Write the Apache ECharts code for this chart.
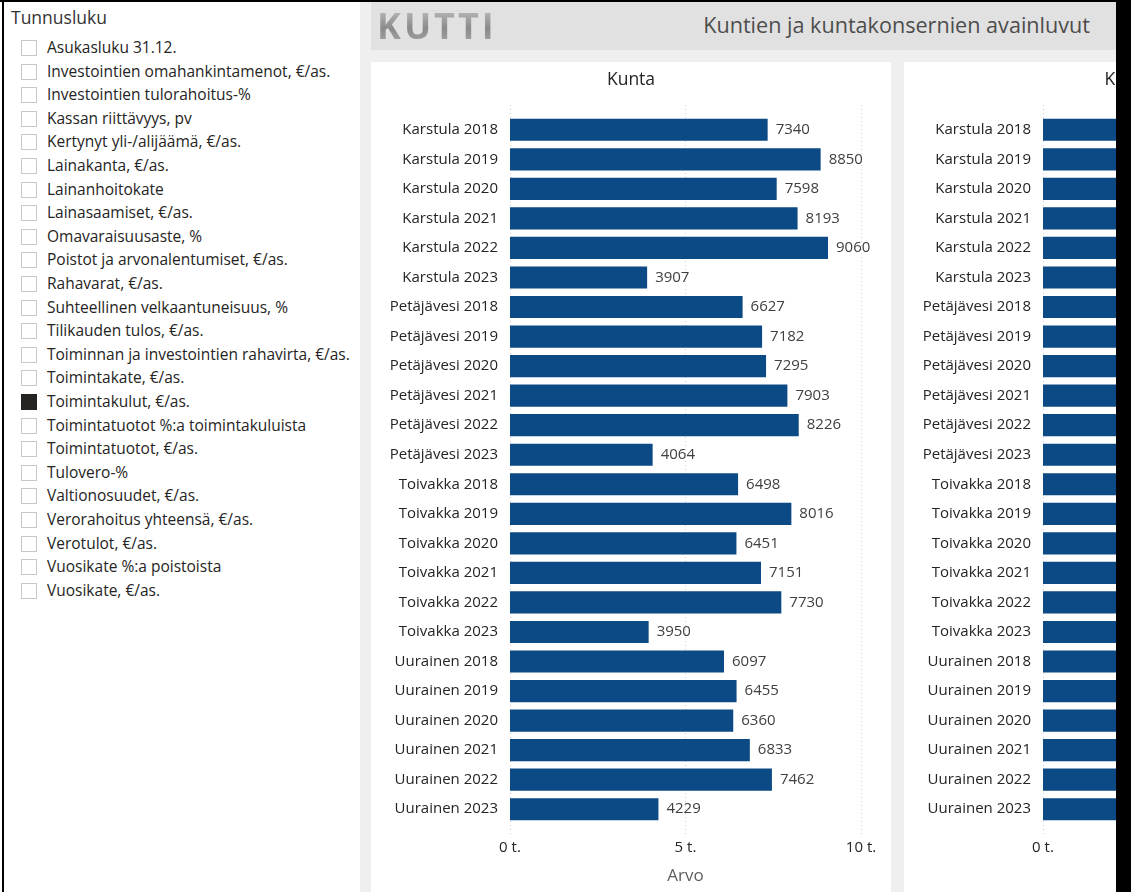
<!DOCTYPE html>
<html>
<head>
<meta charset="utf-8">
<script src="https://cdn.jsdelivr.net/npm/echarts@6/dist/echarts.min.js"></script>
<style>
  html, body { margin:0; padding:0; width:1131px; height:892px; overflow:hidden; background:#fff; font-family:"Open Sans", "Noto Sans", sans-serif; }
  .abs { position:absolute; }
  #grayBg { left:360px; top:0; width:756px; height:892px; background:#efefef; }
  #header { left:371px; top:2px; width:745px; height:48px; background:#e1e1e1; }
  #logo { left:377px; top:4px; font-size:36px; font-weight:700; letter-spacing:3px; line-height:44px;
          background:linear-gradient(#c8c8c8, #8a8a8a 55%, #ababab); -webkit-background-clip:text; background-clip:text; color:transparent; }
  #title { right:41px; top:10px; font-size:21.6px; color:#4d4d4d; line-height:30px; white-space:nowrap; }
  #panel1 { left:371px; top:62px; width:520px; height:830px; background:#fff; }
  #panel2 { left:904px; top:62px; width:520px; height:830px; background:#fff; }
  #slicer { left:3px; top:2px; width:357px; height:890px; background:#fff; }
  #slicerTitle { left:11px; top:5px; font-size:17.5px; color:#333; }
  .item { position:absolute; left:21px; height:20px; font-size:15.5px; color:#252423; white-space:nowrap; line-height:20px; }
  .box { position:absolute; left:0; top:2px; width:14px; height:14px; border:1px solid #c8c8c8; background:#fff; box-sizing:content-box; }
  .box.on { background:#252423; border-color:#252423; }
  .lbl { position:absolute; left:26px; top:-1px; }
  #topLine { left:0; top:0; width:1116px; height:2px; background:#000; }
  #leftLine { left:2px; top:0; width:2px; height:892px; background:#000; }
  #rightBand { left:1116px; top:0; width:15px; height:892px; background:#000; }
</style>
</head>
<body>
<div class="abs" id="grayBg"></div>
<div class="abs" id="header"></div>
<div class="abs" id="logo">KUTTI</div>
<div class="abs" id="title">Kuntien ja kuntakonsernien avainluvut</div>
<div class="abs" id="slicer"></div>
<div class="abs" id="slicerTitle">Tunnusluku</div>
<div class="abs" id="panel1"></div>
<div class="abs" id="panel2"></div>
<div class="abs" id="topLine"></div>
<div class="abs" id="leftLine"></div>
<div class="abs" id="rightBand"></div>
<script>
// ---- data ----
const metrics = [
  'Asukasluku 31.12.',
  'Investointien omahankintamenot, €/as.',
  'Investointien tulorahoitus-%',
  'Kassan riittävyys, pv',
  'Kertynyt yli-/alijäämä, €/as.',
  'Lainakanta, €/as.',
  'Lainanhoitokate',
  'Lainasaamiset, €/as.',
  'Omavaraisuusaste, %',
  'Poistot ja arvonalentumiset, €/as.',
  'Rahavarat, €/as.',
  'Suhteellinen velkaantuneisuus, %',
  'Tilikauden tulos, €/as.',
  'Toiminnan ja investointien rahavirta, €/as.',
  'Toimintakate, €/as.',
  'Toimintakulut, €/as.',
  'Toimintatuotot %:a toimintakuluista',
  'Toimintatuotot, €/as.',
  'Tulovero-%',
  'Valtionosuudet, €/as.',
  'Verorahoitus yhteensä, €/as.',
  'Verotulot, €/as.',
  'Vuosikate %:a poistoista',
  'Vuosikate, €/as.'
];
const selectedMetric = 'Toimintakulut, €/as.';
const municipalities = ['Karstula', 'Petäjävesi', 'Toivakka', 'Uurainen'];
const years = [2018, 2019, 2020, 2021, 2022, 2023];
const kuntaValues = [
  7340, 8850, 7598, 8193, 9060, 3907,
  6627, 7182, 7295, 7903, 8226, 4064,
  6498, 8016, 6451, 7151, 7730, 3950,
  6097, 6455, 6360, 6833, 7462, 4229
];
// konserni chart is cut off at the right edge; values are estimates
const konserniValues = [
  9100, 10900, 9400, 10100, 11200, 5200,
  7800, 8400, 8500, 9200, 9600, 5100,
  7400, 9100, 7400, 8200, 8900, 4800,
  6900, 7300, 7200, 7700, 8400, 5000
];
const xTicks = ['0 t.', '5 t.', '10 t.'];
const chartTitles = ['Kunta', 'Kuntakonserni'];
const axisName = 'Arvo';

// ---- slicer ----
metrics.forEach((m, i) => {
  const d = document.createElement('div');
  d.className = 'item';
  d.style.top = (38 + i * 23.6) + 'px';
  d.innerHTML = '<div class="box' + (m === selectedMetric ? ' on' : '') + '"></div><span class="lbl"></span>';
  d.querySelector('.lbl').textContent = m;
  document.body.appendChild(d);
});

const categories = [];
municipalities.forEach(m => years.forEach(y => categories.push(m + ' ' + y)));

function makeChart(el, title, values) {
  const c = echarts.init(el, null, { renderer: 'canvas' });
  const font = '"Open Sans", "Noto Sans", sans-serif';
  c.setOption({
    animation: false,
    textStyle: { fontFamily: font },
    title: { text: title, left: 'center', top: 4, textStyle: { fontSize: 17.5, fontWeight: 'normal', color: '#252423', fontFamily: font } },
    grid: [
      { left: 139, right: 30, top: 53, bottom: 68 },
      { left: 139, right: 30, top: 43, bottom: 55 }
    ],
    xAxis: [
      { gridIndex: 0, type: 'value', min: 0, max: 10000, interval: 5000,
        axisLine: { show: false }, axisTick: { show: false }, splitLine: { show: false },
        axisLabel: { margin: 16, fontSize: 15, color: '#252423', fontFamily: font,
          formatter: v => xTicks[Math.round(v / 5000)] },
        name: axisName, nameLocation: 'middle', nameGap: 44,
        nameTextStyle: { fontSize: 17, color: '#605e5c', fontFamily: font } },
      { gridIndex: 1, type: 'value', min: 0, max: 10000, interval: 5000,
        axisLine: { show: false }, axisTick: { show: false }, axisLabel: { show: false },
        splitLine: { show: true, lineStyle: { color: '#cfcfcf', type: [1, 3], width: 1 } } }
    ],
    yAxis: [
      { gridIndex: 0, type: 'category', data: categories, inverse: true,
        axisLine: { show: false }, axisTick: { show: false },
        axisLabel: { margin: 12, fontSize: 15, color: '#252423', fontFamily: font } },
      { gridIndex: 1, type: 'category', data: categories, show: false }
    ],
    series: [{
      type: 'bar', xAxisIndex: 0, yAxisIndex: 0, data: values,
      barCategoryGap: '25%',
      itemStyle: { color: '#0c4a85' },
      label: { show: true, position: 'right', distance: 8, fontSize: 15, color: '#404040', fontFamily: font }
    }]
  });
}
makeChart(document.getElementById('panel1'), chartTitles[0], kuntaValues);
makeChart(document.getElementById('panel2'), chartTitles[1], konserniValues);
</script>
</body>
</html>
